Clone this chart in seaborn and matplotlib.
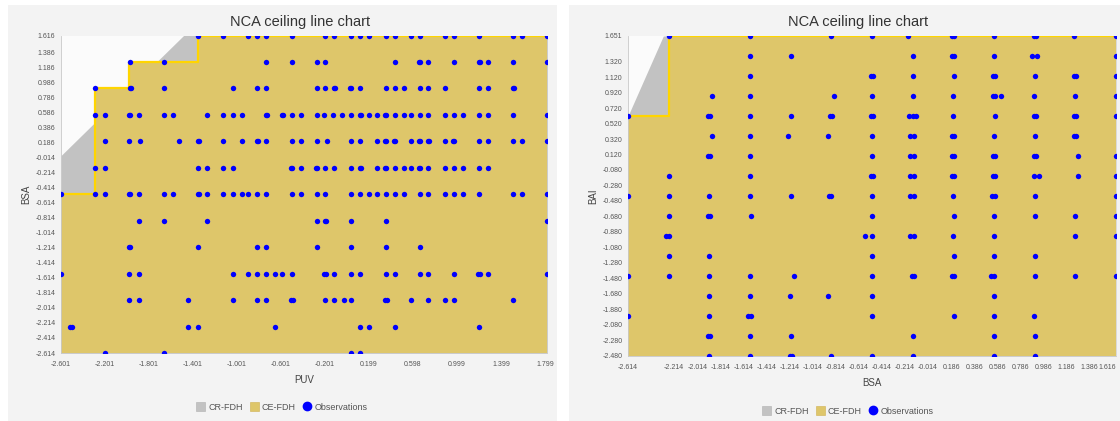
import matplotlib
matplotlib.use("Agg")
import matplotlib.pyplot as plt
import seaborn as sns
import pandas as pd
from matplotlib.patches import Patch, Rectangle
from matplotlib.lines import Line2D

sns.set_style("white")
plt.rcParams["font.family"] = ["Liberation Sans", "DejaVu Sans"]

# ---------------- left chart: PUV (x) vs BSA (y) ----------------
bsa_levels = [-2.614, -2.2615, -1.909, -1.5565, -1.204, -0.8515, -0.499,
              -0.1465, 0.206, 0.5585, 0.911, 1.2635, 1.616]
puv_by_bsa = [
    [-2.205, -1.669, 0.034, 0.118],
    [-2.520, -2.500, -1.442, -1.354, -0.659, 0.118, 0.197, 0.433, 1.202],
    [-1.980, -1.896, -1.442, -1.040, -0.818, -0.736, -0.512, -0.492, -0.200, -0.115,
     -0.027, 0.034, 0.340, 0.360, 0.577, 0.739, 0.891, 0.970, 1.511],
    [-2.601, -1.980, -1.896, -1.040, -0.900, -0.818, -0.736, -0.659, -0.590, -0.502,
     -0.210, -0.190, -0.115, 0.034, 0.118, 0.350, 0.433, 0.659, 0.739, 0.970,
     1.192, 1.212, 1.284, 1.820],
    [-1.980, -1.975, -1.354, -0.818, -0.736, -0.275, 0.034, 0.350, 0.659],
    [-1.896, -1.669, -1.272, -0.275, -0.205, -0.195, 0.034, 0.350, 1.820],
    [-2.601, -2.289, -2.205, -1.985, -1.975, -1.896, -1.669, -1.584, -1.359, -1.349,
     -1.272, -1.129, -1.040, -0.954, -0.900, -0.818, -0.736, -0.502, -0.418, -0.275,
     -0.200, 0.034, 0.118, 0.197, 0.270, 0.350, 0.433, 0.515, 0.659, 0.739, 0.891,
     0.970, 1.057, 1.202, 1.511, 1.587, 1.820],
    [-2.289, -2.205, -1.354, -1.272, -1.129, -1.040, -0.507, -0.497, -0.418, -0.280,
     -0.270, -0.200, -0.115, 0.034, 0.113, 0.123, 0.270, 0.345, 0.355, 0.433, 0.515,
     0.577, 0.654, 0.664, 0.739, 0.891, 0.970, 1.057, 1.202, 1.284],
    [-2.205, -1.980, -1.881, -1.524, -1.359, -1.349, -1.129, -0.954, -0.823, -0.813,
     -0.736, -0.502, -0.418, -0.275, -0.179, 0.034, 0.118, 0.270, 0.345, 0.355,
     0.428, 0.438, 0.577, 0.654, 0.664, 0.734, 0.744, 0.891, 0.965, 0.975, 1.202,
     1.284, 1.511, 1.587, 1.820],
    [-2.289, -2.205, -1.985, -1.975, -1.896, -1.669, -1.584, -1.272, -1.129, -1.040,
     -0.954, -0.741, -0.731, -0.595, -0.585, -0.502, -0.418, -0.275, -0.207, -0.124,
     -0.048, 0.034, 0.113, 0.123, 0.197, 0.270, 0.345, 0.355, 0.433, 0.515, 0.577,
     0.659, 0.739, 0.891, 0.970, 1.057, 1.202, 1.284, 1.511, 1.820],
    [-2.289, -1.977, -1.967, -1.669, -1.040, -0.818, -0.736, -0.275, -0.200, -0.120,
     -0.110, 0.029, 0.039, 0.118, 0.350, 0.433, 0.515, 0.659, 0.739, 0.891, 1.202,
     1.284, 1.506, 1.516],
    [-1.972, -1.669, -0.736, -0.502, -0.275, -0.200, 0.433, 0.654, 0.664, 0.739,
     0.970, 1.197, 1.207, 1.284, 1.511, 1.820],
    [-1.354, -1.129, -0.900, -0.818, -0.736, -0.502, -0.200, -0.115, 0.034, 0.118,
     0.197, 0.350, 0.433, 0.577, 0.659, 0.891, 0.970, 1.202, 1.511, 1.587, 1.820],
]
left_ce_x = [-2.601, -2.289, -1.980, -1.354, 1.820]
left_ce_y = [-0.499, 0.911, 1.2635, 1.616, 1.616]
left_cr_x = [-2.601, -1.487, 1.820]
left_cr_y = [0.016, 1.616, 1.616]
left_xlim = (-2.601, 1.820)
left_ylim = (-2.614, 1.616)
left_xticklabels = ["-2.601", "-2.201", "-1.801", "-1.401", "-1.001", "-0.601",
                    "-0.201", "0.199", "0.598", "0.999", "1.399", "1.799"]
left_yticklabels = ["-2.614", "-2.414", "-2.214", "-2.014", "-1.814", "-1.614",
                    "-1.414", "-1.214", "-1.014", "-0.814", "-0.614", "-0.414",
                    "-0.214", "-0.014", "0.186", "0.386", "0.586", "0.786",
                    "0.986", "1.186", "1.386", "1.616"]

# ---------------- right chart: BSA (x) vs BAI (y) ----------------
bai_levels = [-2.480, -2.222, -1.964, -1.705, -1.447, -1.189, -0.931, -0.673, -0.414,
              -0.156, 0.102, 0.360, 0.618, 0.877, 1.135, 1.393, 1.651]
bsa_by_bai = [
    [-1.909, -1.5565, -1.214, -1.194, -0.8515, -0.499, -0.1465, 0.5585, 0.911],
    [-1.919, -1.899, -1.5565, -1.204, -0.1465, 0.5585, 0.911],
    [-2.614, -1.909, -1.5765, -1.5465, -0.499, 0.216, 0.5585, 0.901],
    [-1.909, -1.5565, -1.214, -0.8815, -0.499, 0.5585],
    [-2.614, -2.2615, -1.909, -1.5565, -1.174, -0.499, -0.1565, -0.1365, 0.196, 0.216,
     0.5285, 0.5585, 0.911, 1.2635, 1.616],
    [-2.2615, -1.909, -0.499, 0.216, 0.5585, 0.911],
    [-2.2815, -2.2615, -0.560, -0.499, -0.1665, -0.1365, 0.206, 0.5585, 1.2635, 1.616],
    [-2.2615, -1.919, -1.899, -1.5465, -0.499, 0.216, 0.5585, 0.911, 1.2635, 1.616],
    [-2.614, -2.2615, -1.909, -1.5565, -1.204, -0.8715, -0.8515, -0.499, -0.1665,
     -0.1365, 0.206, 0.5385, 0.5685, 0.911, 1.616],
    [-2.2615, -1.5565, -0.509, -0.489, -0.1665, -0.1365, 0.196, 0.216, 0.5485, 0.5685,
     0.901, 0.946, 1.2835, 1.616],
    [-1.919, -1.899, -1.5565, -0.499, -0.1665, -0.1365, 0.196, 0.216, 0.5485, 0.5685,
     0.901, 0.921, 1.2835, 1.616],
    [-1.889, -1.5565, -1.224, -0.8815, -0.499, -0.1665, -0.1365, 0.196, 0.216, 0.5585,
     0.911, 1.2535, 1.2735],
    [-2.614, -1.919, -1.899, -1.5565, -1.204, -0.8615, -0.8415, -0.509, -0.489,
     -0.1765, -0.1465, -0.1165, 0.206, 0.5685, 0.901, 0.921, 1.2535, 1.2735, 1.616],
    [-1.889, -1.5565, -0.8315, -0.499, -0.1465, 0.206, 0.5485, 0.5685, 0.6185, 0.901,
     1.2635, 1.616],
    [-1.5565, -0.509, -0.489, -0.1465, 0.216, 0.5485, 0.5685, 0.911, 1.2535, 1.2735,
     1.616],
    [-1.5565, -1.204, -0.1465, 0.196, 0.216, 0.5585, 0.891, 0.931, 1.616],
    [-2.2615, -1.5565, -0.8515, -0.499, -0.190, 0.196, 0.216, 0.5585, 0.901, 0.921,
     1.2535, 1.616],
]
right_ce_x = [-2.614, -2.2615, 1.616]
right_ce_y = [0.618, 1.651, 1.651]
right_cr_x = [-2.614, -2.308, 1.616]
right_cr_y = [0.618, 1.651, 1.651]
right_xlim = (-2.614, 1.616)
right_ylim = (-2.480, 1.651)
right_xticklabels = ["-2.614", "-2.214", "-2.014", "-1.814", "-1.614", "-1.414",
                     "-1.214", "-1.014", "-0.814", "-0.614", "-0.414", "-0.214",
                     "-0.014", "0.186", "0.386", "0.586", "0.786", "0.986",
                     "1.186", "1.386", "1.616"]
right_yticklabels = ["-2.480", "-2.280", "-2.080", "-1.880", "-1.680", "-1.480",
                     "-1.280", "-1.080", "-0.880", "-0.680", "-0.480", "-0.280",
                     "-0.080", "0.120", "0.320", "0.520", "0.720", "0.920",
                     "1.120", "1.320", "1.651"]

GRAY = "#C2C2C2"
GOLD = "#DEC66A"
LINE = "#FFD500"
BLUE = "#0000FF"

W, H = 1120, 421
fig = plt.figure(figsize=(W / 100, H / 100), dpi=100)
fig.patch.set_facecolor("white")
fig.patches.append(Rectangle((8 / W, 0), 549 / W, 416 / H, transform=fig.transFigure,
                             facecolor="#F3F3F3", edgecolor="none", zorder=-5))
fig.patches.append(Rectangle((569 / W, 0), 560 / W, 416 / H, transform=fig.transFigure,
                             facecolor="#F3F3F3", edgecolor="none", zorder=-5))


def long_df(levels, values_by_level, xname, yname):
    rows = [(x, lv) for lv, xs in zip(levels, values_by_level) for x in xs]
    return pd.DataFrame(rows, columns=[xname, yname])


def nca_panel(ax, df, xname, yname, cr_x, cr_y, ce_x, ce_y, xlim, ylim,
              xticklabels, yticklabels):
    ax.set_facecolor("#FBFBFB")
    ax.fill_between(cr_x, ylim[0], cr_y, color=GRAY, lw=0, zorder=1)
    ax.fill_between(ce_x, ylim[0], ce_y, step="post", color=GOLD, lw=0, zorder=2)
    ax.step(ce_x, ce_y, where="post", color=LINE, lw=1.6, zorder=3)
    sns.scatterplot(data=df, x=xname, y=yname, ax=ax, color=BLUE, s=15,
                    linewidth=0, zorder=5, legend=False)
    ax.set_xlim(*xlim)
    ax.set_ylim(*ylim)
    ax.set_xticks([float(t) for t in xticklabels])
    ax.set_xticklabels(xticklabels)
    ax.set_yticks([float(t) for t in yticklabels])
    ax.set_yticklabels(yticklabels)
    ax.tick_params(axis="both", labelsize=5, colors="#555555", length=2,
                   width=0.5, pad=2)
    ax.tick_params(axis="x", pad=4)
    for side, sp in ax.spines.items():
        if side in ("left", "bottom"):
            sp.set_color("#C8C8C8")
            sp.set_linewidth(0.6)
        else:
            sp.set_visible(False)
    ax.set_xlabel(xname, fontsize=7, color="#444444", labelpad=5)
    ax.set_ylabel(yname, fontsize=7, color="#444444", labelpad=3)


left_df = long_df(bsa_levels, puv_by_bsa, "PUV", "BSA")
right_df = long_df(bai_levels, bsa_by_bai, "BSA", "BAI")

ax1 = fig.add_axes([61 / W, 68 / H, 486.3 / W, 317.5 / H])
nca_panel(ax1, left_df, "PUV", "BSA", left_cr_x, left_cr_y, left_ce_x, left_ce_y,
          left_xlim, left_ylim, left_xticklabels, left_yticklabels)

ax2 = fig.add_axes([628 / W, 65.3 / H, 488 / W, 319.7 / H])
nca_panel(ax2, right_df, "BSA", "BAI", right_cr_x, right_cr_y, right_ce_x, right_ce_y,
          right_xlim, right_ylim, right_xticklabels, right_yticklabels)
# the last x label sits on the figure edge: anchor it to its right side
ax2.get_xticklabels()[-1].set_horizontalalignment("right")

for cx in (300, 858):
    fig.text(cx / W, 1 - 22 / H, "NCA ceiling line chart", ha="center", va="center",
             fontsize=10.5, color="#333333")

handles = [Patch(facecolor=GRAY, edgecolor="#B0B0B0", lw=0.4),
           Patch(facecolor=GOLD, edgecolor="#D0B050", lw=0.4),
           Line2D([], [], marker="o", ls="none", color=BLUE, markersize=6)]
labels = ["CR-FDH", "CE-FDH", "Observations"]
for cx, cy in ((282, 407), (848, 411)):
    fig.legend(handles, labels, loc="center", bbox_to_anchor=(cx / W, 1 - cy / H),
               ncol=3, frameon=False, fontsize=6.5, handlelength=1.0,
               handleheight=1.0, handletextpad=0.3, columnspacing=0.8,
               labelcolor="#555555")

fig.savefig("out.png", dpi=100)
